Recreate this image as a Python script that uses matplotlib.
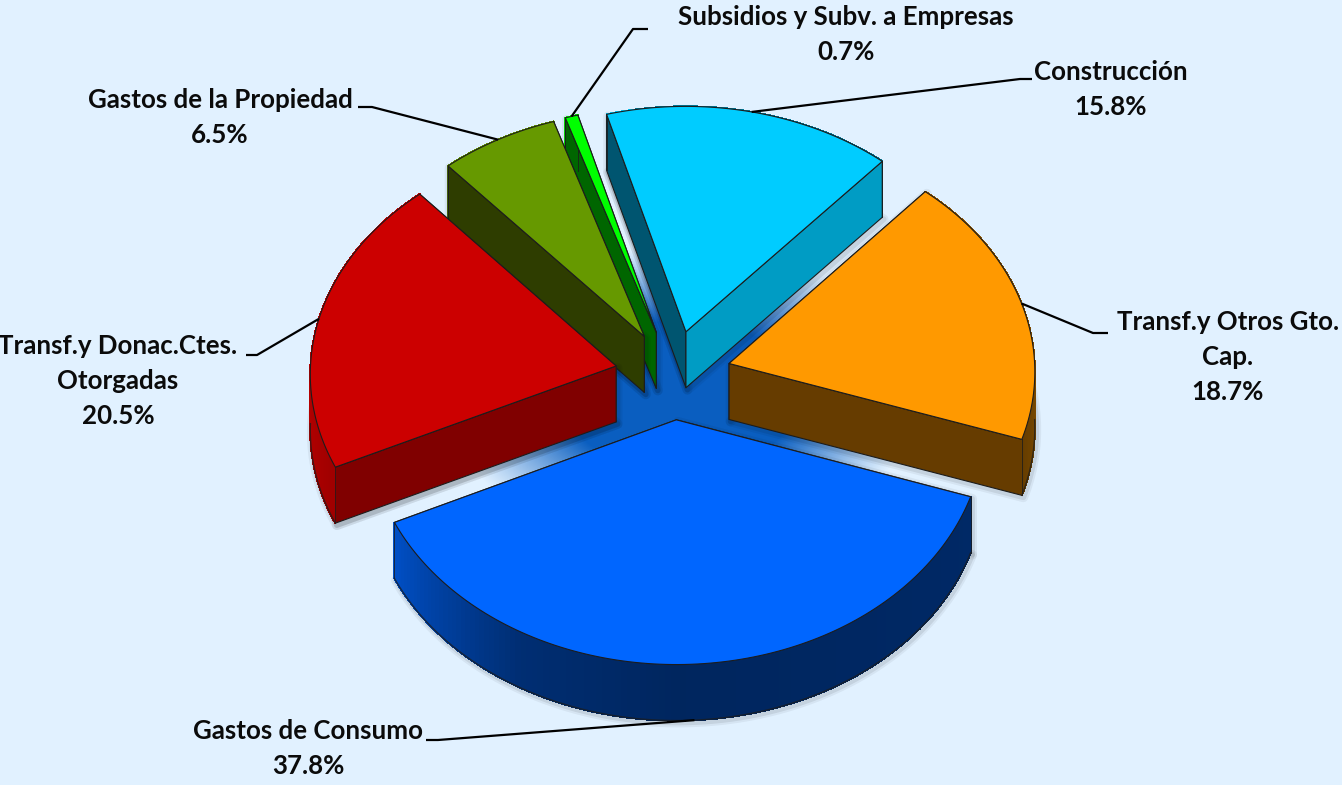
import numpy as np
import matplotlib
matplotlib.use("Agg")
import matplotlib.pyplot as plt
from matplotlib.patches import Polygon
from matplotlib.colors import to_rgb

categories = ["Transf.y Otros Gto.\nCap.", "Construcción", "Subsidios y Subv. a Empresas",
              "Gastos de la Propiedad", "Transf.y Donac.Ctes.\nOtorgadas", "Gastos de Consumo"]
shares = [18.7, 15.8, 0.7, 6.5, 20.5, 37.8]
top_colors = ["#FF9900", "#00CCFF", "#00FF00", "#669900", "#CC0000", "#0066FF"]
start_wall = ["#663C00", "#009CC4", "#009900", "#3A4D00", "#800000", "#003C99"]
end_wall = ["#7A4D00", "#005570", "#006600", "#2E3D00", "#800000", "#003C99"]
draw_order = [1, 0, 2, 3, 4, 5]
# label anchor (centre x, first line y) and elbow end of each leader
label_pos = [(1228, 322), (1111, 72), (846, 17), (220, 100), (118, 346), (308, 731)]
elbows = [(1108, 333), (1032, 79), (648, 29), (358, 107), (246, 355), (426, 740)]
elbow_mid = [(1093, 333), (1020, 79), (633, 29), (372, 107), (257, 355), (438, 740)]

BG = "#E1F1FF"
CX, CY, RX, RY, DEPTH, EXPLODE, KP = 673, 375, 306, 235, 56, 0.19, 0.03
START = -18.7

fig = plt.figure(figsize=(13.42, 7.85), dpi=100, facecolor=BG)
ax = fig.add_axes([0, 0, 1, 1])
plt.rcParams["font.family"] = "Lato"


def proj(x, y, z=0.0):
    x, y = np.asarray(x, float), np.asarray(y, float)
    p = 1 - KP * y
    return np.column_stack([CX + x * RX * p, CY - y * RY * p + z * DEPTH])


def shade(theta):
    th = (np.asarray(theta) + 18.7) % 360 - 18.7
    th = np.where(th < 100, th + 360, th)
    return np.interp(th, [130, 180, 205, 240, 270, 341, 360, 410], [1, .9, .78, .45, .37, .40, .5, .6])


# reflective floor fading outward
gx, gy = np.meshgrid(np.arange(380, 980), np.arange(230, 560))
rr = np.hypot(gx - 680, (gy - 395) * 1.6)
alpha = np.clip((240 - rr) / 120, 0, 1) ** 1.1
img = np.zeros(gx.shape + (4,))
img[..., :3] = to_rgb("#0A5EC0")
img[..., 3] = alpha
ax.imshow(img, extent=(380, 980, 560, 230), zorder=0, aspect="auto", interpolation="bilinear")
ax.set_xlim(0, 1342)
ax.set_ylim(785, 0)
ax.axis("off")

angles = np.cumsum([0] + [s * 360 / sum(shares) for s in shares]) + START
z = 1
EDGE = "#1c1c1c"
for i in draw_order:
    a0, a1 = angles[i], angles[i + 1]
    mid = np.radians((a0 + a1) / 2)
    ox, oy = EXPLODE * np.cos(mid), EXPLODE * np.sin(mid)
    t = np.radians(np.linspace(a0, a1, 120))
    gxs, gys = np.r_[ox, ox + np.cos(t)], np.r_[oy, oy + np.sin(t)]
    tp = proj(gxs, gys, 0)
    bt = proj(gxs, gys, 1)
    # soft shadow
    for lw, al in ((7, .05), (4, .08)):
        for pts in (bt, np.vstack([tp[0:1], bt[0:1], bt[-1:], tp[-1:]])):
            ax.add_patch(Polygon(pts + [1.5, 2], closed=True, fc="none", ec="black", lw=lw, alpha=al,
                                 zorder=z, joinstyle="round"))
    z += 1
    # all side faces, far ones painted first
    base = np.array(to_rgb(top_colors[i]))
    s = shade(np.degrees(t))
    faces = []
    for idx, col in ((1, start_wall[i]), (-1, end_wall[i])):
        q = np.vstack([tp[0], tp[idx], bt[idx], bt[0]])
        faces.append(((gys[0] + gys[idx]) / 2, q, col, True))
    for k in range(len(t) - 1):
        q = np.vstack([tp[k + 1], tp[k + 2], bt[k + 2], bt[k + 1]])
        faces.append(((gys[k + 1] + gys[k + 2]) / 2, q, tuple(base * s[k]), False))
    for _, q, col, radial in sorted(faces, key=lambda f: -f[0]):
        if radial:
            ax.add_patch(Polygon(q, closed=True, fc=col, ec=EDGE, lw=.8, zorder=z, joinstyle="round"))
        else:
            ax.add_patch(Polygon(q, closed=True, fc=col, ec=col, lw=.8, zorder=z, antialiased=False))
        z += 0.001
    z += 1
    # only the front part of the lower rim can be seen
    front = np.sin(t) < 0
    if front.any():
        ax.plot(bt[1:, 0][front], bt[1:, 1][front], color=EDGE, lw=1.0, alpha=.75, zorder=z)
    for idx in (1, -1):
        ax.plot([tp[idx, 0], bt[idx, 0]], [tp[idx, 1], bt[idx, 1]], color=EDGE, lw=.7, alpha=.8, zorder=z)
    z += 1
    ax.add_patch(Polygon(tp, closed=True, fc=top_colors[i], ec=EDGE, lw=.8, zorder=z, joinstyle="round"))
    z += 1

for i in range(len(shares)):
    a0, a1 = angles[i], angles[i + 1]
    mid = np.radians((a0 + a1) / 2)
    ox, oy = EXPLODE * np.cos(mid), EXPLODE * np.sin(mid)
    edge_z = 1 if i == 5 else 0
    pt = proj([ox + np.cos(mid)], [oy + np.sin(mid)], edge_z)[0]
    xs = [pt[0], elbow_mid[i][0], elbows[i][0]]
    ys = [pt[1], elbow_mid[i][1], elbows[i][1]]
    ax.plot(xs, ys, color="black", lw=1.6, zorder=2000, solid_capstyle="butt", solid_joinstyle="round")
    lx, ly = label_pos[i]
    lines = categories[i].split("\n") + [f"{shares[i]:.1f}%"]
    for j, line in enumerate(lines):
        ax.text(lx, ly + j * 35, line, ha="center", va="center", fontsize=18.6, fontweight="bold",
                family=["Lato", "DejaVu Sans"], color="#0B0B0B", zorder=2100)

fig.savefig("out.png", dpi=100, facecolor=BG)
